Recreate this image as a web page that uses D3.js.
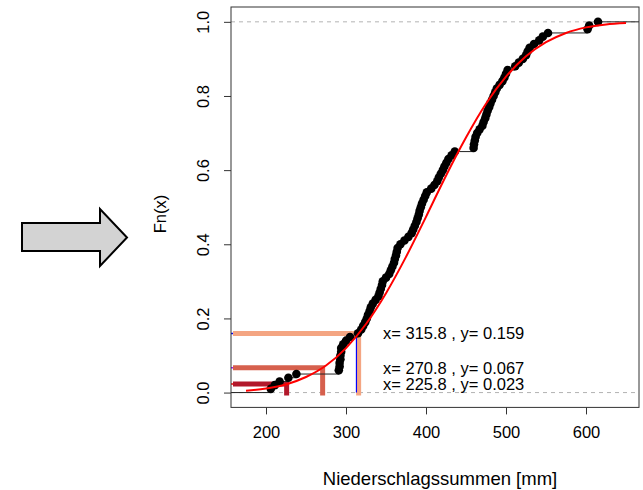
<!DOCTYPE html>
<html>
<head>
<meta charset="utf-8">
<script src="https://cdn.jsdelivr.net/npm/d3@7"></script>
<style>
  html, body { margin: 0; padding: 0; background: #fff; }
  svg { display: block; font-family: "Liberation Sans", Arial, Helvetica, sans-serif; }
</style>
</head>
<body>
<svg id="chart" width="643" height="490"></svg>
<script>
// Sorted annual precipitation totals [mm] (n = 100)
const niederschlag = [
  206, 211, 217, 228, 238, 291, 292, 292, 293, 293,
  294, 294, 296.5, 300, 305, 315, 319, 321.5, 324, 326,
  327.5, 329.5, 331, 333.5, 337, 340.5, 342, 343.5, 345, 346,
  350, 354, 356, 358, 360, 361, 362.5, 363.5, 364.5, 368,
  373, 378, 382, 384, 386, 388, 389.5, 391, 392, 393.5,
  395, 397, 399, 401, 406.5, 410.5, 414, 416, 418.5, 421,
  423, 425.5, 428, 432, 436, 459.5, 460, 461, 462, 464,
  467, 470.5, 472, 474, 475.5, 477, 479, 480.5, 482.5, 484.5,
  486.5, 488.5, 492, 495.5, 498, 500, 502, 511.5, 516, 521,
  525, 527, 529.5, 535, 541.5, 546, 552.5, 602, 604, 615
];

// Fitted normal distribution function, sampled every 25 mm
const fitX = [175, 200, 225, 250, 275, 300, 325, 350, 375, 400,
              425, 450, 475, 500, 525, 550, 575, 600, 625, 650];
const fitF = [0.005, 0.011, 0.022, 0.042, 0.073, 0.120, 0.185, 0.268, 0.366, 0.474,
              0.585, 0.688, 0.779, 0.852, 0.907, 0.945, 0.970, 0.985, 0.993, 0.997];

// Marked quantiles
const markX = [315.8, 270.8, 225.8];
const markF = [0.159, 0.067, 0.023];
const markColor = ["#f4a582", "#d6604d", "#b2182b"];
const guideColor = ["#0000ff", "#a020f0", "#ff0000"];

const xTicks = [200, 300, 400, 500, 600];
const yTicks = [0, 0.2, 0.4, 0.6, 0.8, 1.0];

const svg = d3.select("#chart");
const box = { left: 231, right: 639, top: 7, bottom: 407.4 };

const x = d3.scaleLinear().domain([156.25, 666.25]).range([box.left, box.right]);
const y = d3.scaleLinear().domain([-0.04, 1.04]).range([box.bottom, box.top]);

const n = niederschlag.length;
const ecdf = niederschlag.map((v, i) => ({ x: v, f: (i + 1) / n }));

// Arrow on the left
svg.append("polygon")
  .attr("points", "22,223 100,223 100,209 127,237.5 100,266 100,251 22,251")
  .attr("fill", "#d3d3d3")
  .attr("stroke", "#000")
  .attr("stroke-width", 2)
  .attr("stroke-linejoin", "miter");

const plot = svg.append("g");
plot.append("clipPath").attr("id", "clip")
  .append("rect")
  .attr("x", box.left).attr("y", box.top)
  .attr("width", box.right - box.left).attr("height", box.bottom - box.top);

const inner = plot.append("g").attr("clip-path", "url(#clip)");

// Reference lines at 0 and 1
inner.selectAll("line.ref")
  .data([0, 1])
  .join("line")
  .attr("class", "ref")
  .attr("x1", box.left).attr("x2", box.right)
  .attr("y1", d => y(d)).attr("y2", d => y(d))
  .attr("stroke", "#b3b3b3")
  .attr("stroke-width", 1)
  .attr("stroke-dasharray", "4,4");

// Thick quantile markers
markX.forEach((v, i) => {
  inner.append("path")
    .attr("d", `M${box.left + 2},${y(markF[i])}L${x(v)},${y(markF[i])}L${x(v)},${y(0) + 3}`)
    .attr("fill", "none")
    .attr("stroke", markColor[i])
    .attr("stroke-width", 5)
    .attr("stroke-linecap", "butt")
    .attr("stroke-linejoin", "miter");
});

// Thin guide stubs at the axis and the guide line at the first quantile
markF.forEach((f, i) => {
  inner.append("line")
    .attr("x1", box.left).attr("x2", box.left + 2)
    .attr("y1", y(f)).attr("y2", y(f))
    .attr("stroke", guideColor[i])
    .attr("stroke-width", 1.5);
});
inner.append("line")
  .attr("x1", x(markX[0]) - 2.2).attr("x2", x(markX[0]) - 2.2)
  .attr("y1", y(markF[0])).attr("y2", y(0))
  .attr("stroke", guideColor[0])
  .attr("stroke-width", 1.2);

// ECDF steps
const steps = [{ x0: x.domain()[0] - 50, x1: ecdf[0].x, f: 0 }]
  .concat(ecdf.map((d, i) => ({ x0: d.x, x1: i < n - 1 ? ecdf[i + 1].x : x.domain()[1] + 50, f: d.f })));
inner.selectAll("line.step")
  .data(steps)
  .join("line")
  .attr("class", "step")
  .attr("x1", d => x(d.x0)).attr("x2", d => x(d.x1))
  .attr("y1", d => y(d.f)).attr("y2", d => y(d.f))
  .attr("stroke", "#222")
  .attr("stroke-width", 1);

// ECDF points
inner.selectAll("circle.pt")
  .data(ecdf)
  .join("circle")
  .attr("class", "pt")
  .attr("cx", d => x(d.x))
  .attr("cy", d => y(d.f))
  .attr("r", 4.3)
  .attr("fill", "#000");

// Fitted distribution curve
const fit = fitX.map((v, i) => [v, fitF[i]]);
inner.append("path")
  .datum(fit)
  .attr("d", d3.line().x(d => x(d[0])).y(d => y(d[1])).curve(d3.curveMonotoneX))
  .attr("fill", "none")
  .attr("stroke", "#ff0000")
  .attr("stroke-width", 2);

// Labels for the quantiles
svg.selectAll("text.mark")
  .data(markX)
  .join("text")
  .attr("class", "mark")
  .attr("x", 383)
  .attr("y", (d, i) => y(markF[i]))
  .attr("dy", "0.35em")
  .attr("font-size", 16.5)
  .attr("fill", "#000")
  .text((d, i) => `x= ${d.toFixed(1)} , y= ${markF[i].toFixed(3)}`);

// Plot frame
svg.append("rect")
  .attr("x", box.left).attr("y", box.top)
  .attr("width", box.right - box.left).attr("height", box.bottom - box.top)
  .attr("fill", "none")
  .attr("stroke", "#333")
  .attr("stroke-width", 1);

// Axes
const xAxis = svg.append("g")
  .attr("transform", `translate(0,${box.bottom})`)
  .call(d3.axisBottom(x).tickValues(xTicks).tickSize(7).tickPadding(12).tickFormat(d3.format("d")));
xAxis.select(".domain").remove();
xAxis.selectAll("line").attr("stroke", "#333");
xAxis.selectAll("text")
  .attr("font-size", 16.5)
  .attr("font-family", "Liberation Sans, Arial, sans-serif")
  .attr("fill", "#000");

const yAxis = svg.append("g")
  .attr("transform", `translate(${box.left},0)`)
  .call(d3.axisLeft(y).tickValues(yTicks).tickSize(7).tickFormat(d3.format(".1f")));
yAxis.select(".domain").remove();
yAxis.selectAll("line").attr("stroke", "#333");
yAxis.selectAll("text").remove();
yAxis.selectAll(".tick")
  .append("text")
  .attr("transform", "translate(-22,0) rotate(-90)")
  .attr("text-anchor", "middle")
  .attr("font-size", 16.5)
  .attr("font-family", "Liberation Sans, Arial, sans-serif")
  .attr("fill", "#000")
  .text(d => d3.format(".1f")(d));

// Axis titles
svg.append("text")
  .attr("x", 440).attr("y", 485)
  .attr("text-anchor", "middle")
  .attr("font-size", 18.5)
  .text("Niederschlagssummen [mm]");

svg.append("text")
  .attr("transform", "translate(166,214) rotate(-90)")
  .attr("text-anchor", "middle")
  .attr("font-size", 16.5)
  .text("Fn(x)");
</script>
</body>
</html>
